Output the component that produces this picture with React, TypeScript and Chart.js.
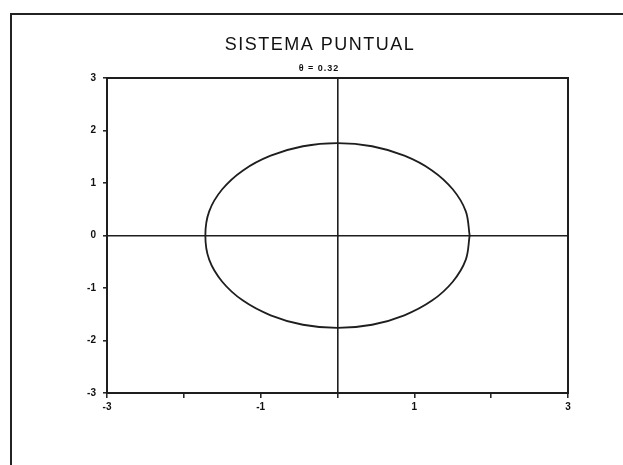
import React, { useEffect, useRef } from "react";
import { Chart, registerables } from "chart.js";

Chart.register(...registerables);

const chartTitle = "SISTEMA PUNTUAL";
const chartSubtitle = "θ = 0.32";

// x tick labels shown (ticks at every integer)
const xLabelValues = [-3, -1, 1, 3];
const xRange = [-3, 3];
const yRange = [-3, 3];

// orbit points
const orbitX = [
  1.72, 1.67, 1.5, 1.23, 0.87, 0.45, 0.0, -0.45, -0.87, -1.23, -1.5, -1.67, -1.72,
  -1.67, -1.5, -1.23, -0.87, -0.45, 0.0, 0.45, 0.87, 1.23, 1.5, 1.67, 1.72,
];
const orbitY = [
  0.0, 0.46, 0.88, 1.24, 1.52, 1.7, 1.76, 1.7, 1.52, 1.24, 0.88, 0.46, 0.0,
  -0.46, -0.88, -1.24, -1.52, -1.7, -1.76, -1.7, -1.52, -1.24, -0.88, -0.46, 0.0,
];

const INK = "#1e1e1e";

export default function App() {
  const ref = useRef<HTMLCanvasElement | null>(null);

  useEffect(() => {
    if (!ref.current) return;
    const points = orbitX.map((x, i) => ({ x, y: orbitY[i] }));

    const framePlugin = {
      id: "frameAndTitles",
      afterDraw(chart: any) {
        const { ctx, chartArea } = chart;
        ctx.save();
        ctx.strokeStyle = INK;
        ctx.lineWidth = 2;
        ctx.strokeRect(
          chartArea.left,
          chartArea.top,
          chartArea.right - chartArea.left,
          chartArea.bottom - chartArea.top
        );
        ctx.fillStyle = "#111";
        ctx.textAlign = "center";
        ctx.textBaseline = "middle";
        ctx.font = '18px "Liberation Sans", Arial, sans-serif';
        (ctx as any).letterSpacing = "1.5px";
        ctx.fillText(chartTitle, 320, 45);
        (ctx as any).letterSpacing = "1px";
        ctx.font = 'bold 9px "Liberation Sans", Arial, sans-serif';
        ctx.fillText(chartSubtitle, 319, 69);
        ctx.restore();
      },
    };

    const gridColor = (c: any) =>
      c.tick && c.tick.value === 0 ? INK : "rgba(0,0,0,0)";

    const tickFont = { family: '"Liberation Sans", Arial, sans-serif', size: 10, weight: "bold" as const };

    const chart = new Chart(ref.current, {
      type: "scatter",
      data: {
        datasets: [
          {
            data: points,
            showLine: true,
            borderColor: INK,
            borderWidth: 1.8,
            pointRadius: 0,
            tension: 0.35,
            fill: false,
          },
        ],
      },
      options: {
        responsive: false,
        animation: false,
        devicePixelRatio: 1,
        layout: { padding: { top: 78, right: 55, left: 0, bottom: 0 } },
        plugins: {
          legend: { display: false },
          title: { display: false },
          tooltip: { enabled: false },
        },
        scales: {
          x: {
            type: "linear",
            min: xRange[0],
            max: xRange[1],
            afterFit: (s: any) => {
              s.height = 72;
            },
            ticks: {
              stepSize: 1,
              autoSkip: false,
              maxRotation: 0,
              padding: 3,
              color: "#111",
              font: tickFont,
              callback: (v: any) => (xLabelValues.includes(Number(v)) ? String(v) : ""),
            },
            grid: {
              color: gridColor,
              lineWidth: 1.6,
              drawTicks: true,
              tickLength: 5,
              tickColor: INK,
              tickWidth: 1.5,
            },
            border: { display: true, color: INK, width: 2 },
          },
          y: {
            type: "linear",
            min: yRange[0],
            max: yRange[1],
            afterFit: (s: any) => {
              s.width = 107;
            },
            ticks: {
              stepSize: 1,
              autoSkip: false,
              padding: 7,
              color: "#111",
              font: tickFont,
            },
            grid: {
              color: gridColor,
              lineWidth: 1.6,
              drawTicks: true,
              tickLength: 4,
              tickColor: INK,
              tickWidth: 1.5,
            },
            border: { display: true, color: INK, width: 2 },
          },
        },
      },
      plugins: [framePlugin],
    });

    return () => chart.destroy();
  }, []);

  return (
    <>
      <div
        style={{
          position: "fixed",
          left: 10,
          top: 13,
          width: 640,
          height: 480,
          borderTop: "2px solid #222",
          borderLeft: "2px solid #222",
          boxSizing: "border-box",
        }}
      />
      <canvas
        ref={ref}
        width={623}
        height={465}
        style={{ position: "fixed", left: 0, top: 0, width: 623, height: 465 }}
      />
    </>
  );
}
